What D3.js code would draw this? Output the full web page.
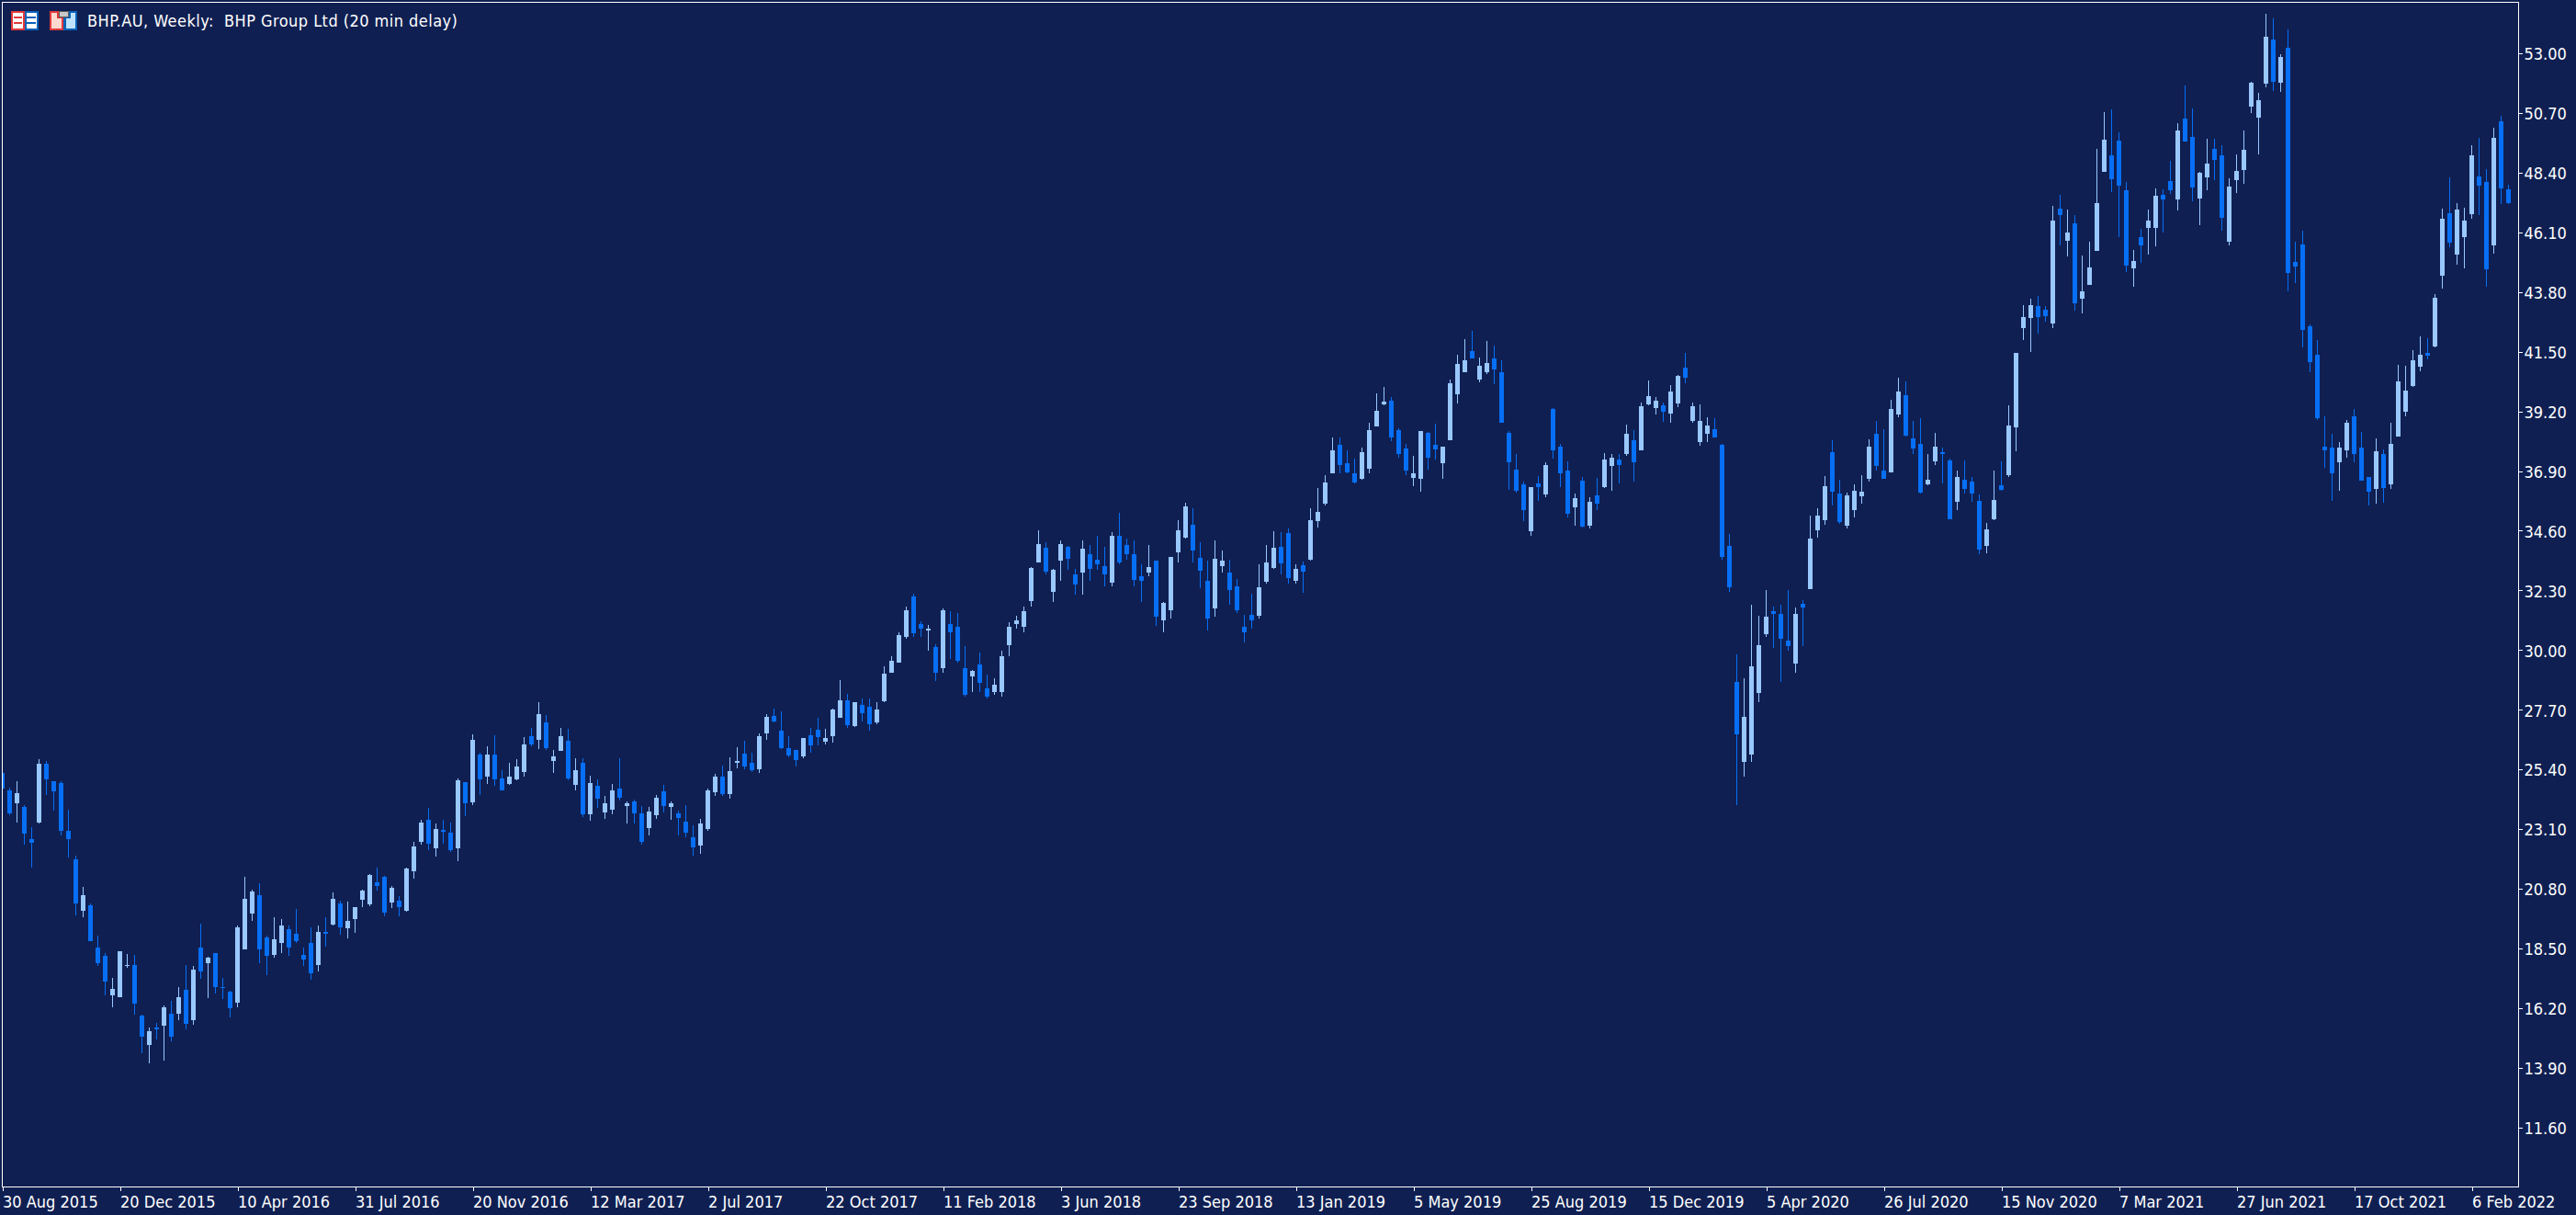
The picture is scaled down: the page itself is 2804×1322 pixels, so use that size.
<!DOCTYPE html>
<html>
<head>
<meta charset="utf-8">
<title>BHP.AU Weekly</title>
<script src="https://cdn.jsdelivr.net/npm/d3@7/dist/d3.min.js"></script>
<style>
  html, body { margin: 0; padding: 0; background: #0f1f52; }
  svg { display: block; }
  text { font-family: "DejaVu Sans Condensed", "Liberation Sans", Arial, sans-serif; font-size: 18px; fill: #ffffff; white-space: pre; }
  .title { letter-spacing: 0.45px; }
</style>
</head>
<body>
<svg id="chart" width="2804" height="1322"></svg>
<script>
// Weekly BHP.AU prices, one entry per candle, oldest first.
const highs = [
25.28,24.71,24.93,24.01,23.19,25.81,25.74,24.96,24.96,23.86,
22.09,20.89,20.22,18.98,18.31,17.35,18.41,18.27,18.24,15.94,
15.47,15.62,16.29,16.47,17.00,17.88,17.81,19.47,18.17,18.34,
17.35,16.86,19.40,21.28,20.75,21.03,18.98,19.69,19.65,19.40,
20.01,18.52,19.30,19.37,19.69,20.65,20.33,20.29,20.08,20.76,
21.36,21.60,21.29,20.90,20.51,21.60,22.60,23.45,23.91,23.30,
23.45,23.34,25.07,24.90,26.74,26.03,26.28,26.70,25.36,25.64,
25.78,26.63,26.99,27.98,27.48,26.14,26.99,26.95,25.82,25.82,
25.15,25.00,24.37,24.83,25.82,24.15,24.25,24.00,23.97,24.43,
24.82,24.18,23.83,24.04,23.23,23.51,24.68,25.24,25.56,25.88,
26.27,26.52,26.06,26.80,27.54,27.76,27.65,26.69,26.16,26.62,
27.01,27.40,26.98,27.76,28.85,28.32,28.00,28.15,28.15,28.00,
29.39,29.77,30.70,31.66,32.19,31.12,30.98,30.24,31.62,31.51,
31.44,30.17,29.25,29.89,29.04,28.90,29.96,31.09,31.34,31.66,
33.21,34.63,34.17,33.14,34.24,34.03,33.14,34.24,34.06,34.42,
33.99,34.56,35.30,34.31,34.21,33.32,34.06,33.46,31.87,33.60,
35.02,35.69,35.48,34.17,33.43,34.21,33.82,33.50,32.75,31.37,
32.19,33.32,34.06,34.59,34.56,34.70,33.32,33.42,35.48,36.25,
36.75,38.20,38.20,37.71,37.39,37.81,38.77,39.90,40.15,39.76,
38.56,37.95,37.49,38.45,38.41,38.73,37.85,40.43,41.39,42.00,
42.31,41.28,41.90,41.75,41.18,38.45,37.57,36.50,36.29,36.71,
37.25,39.33,37.95,37.28,36.05,36.68,35.90,36.64,37.60,37.56,
37.54,38.70,38.49,39.55,40.40,39.76,39.55,40.22,40.62,41.46,
39.55,39.47,38.99,38.95,37.96,34.48,29.85,28.93,31.73,31.34,
32.30,31.69,31.76,32.30,31.65,31.94,35.17,35.47,36.72,38.09,
36.58,36.08,36.39,36.75,38.13,38.84,38.52,39.65,40.50,40.36,
38.84,38.94,37.56,38.38,37.81,37.39,36.93,37.31,36.68,36.00,
34.91,36.93,37.28,39.44,41.46,43.30,43.55,43.65,43.26,47.12,
47.55,46.98,46.77,45.21,45.74,49.32,50.73,50.84,49.95,48.04,
45.42,46.24,46.98,47.79,47.76,48.86,50.31,51.76,50.87,48.43,
49.71,49.71,49.47,48.19,49.11,50.02,51.90,51.48,54.52,54.35,
52.97,53.91,45.75,46.17,42.56,41.96,39.02,38.34,38.02,38.85,
39.30,38.42,36.68,38.16,37.75,38.77,40.99,40.97,41.56,42.09,
42.03,43.72,47.01,48.22,47.23,47.05,49.46,49.74,48.54,50.13,
50.59,47.94
];
const lows = [
24.68,23.62,23.37,22.52,21.60,23.33,24.43,23.83,22.84,22.02,
19.79,19.72,18.77,17.81,16.71,16.25,16.61,17.74,15.94,14.45,
14.06,14.98,14.17,14.94,15.72,15.37,15.55,17.32,16.57,16.75,
16.54,15.86,16.25,18.48,19.58,17.92,17.46,18.13,18.34,18.20,
18.73,17.81,17.28,17.63,18.56,19.37,19.02,18.88,19.09,20.08,
20.12,20.72,19.73,20.05,19.73,19.91,21.18,22.49,22.28,22.03,
22.53,22.21,21.85,23.59,24.01,24.40,24.83,24.76,24.61,24.79,
24.97,25.11,26.28,26.17,26.14,25.25,26.10,24.97,24.58,23.55,
23.41,23.91,23.48,23.66,24.22,23.33,23.30,22.52,22.87,23.51,
23.76,23.47,22.84,22.77,22.06,22.16,23.05,24.39,24.39,24.29,
25.46,25.42,25.31,25.28,26.55,27.23,26.20,25.88,25.53,25.84,
26.06,26.34,26.38,26.45,27.40,27.01,27.05,27.26,26.91,27.16,
28.00,29.14,29.50,30.42,30.49,30.52,29.99,28.82,29.14,29.64,
29.50,28.19,28.40,28.40,28.12,28.29,28.22,29.75,30.84,30.67,
31.69,33.36,32.93,31.87,32.68,33.11,32.15,32.15,32.68,33.11,
32.44,32.44,33.32,33.50,32.47,31.87,32.86,30.95,30.70,31.20,
33.39,34.31,33.39,32.40,30.77,31.27,33.00,31.76,31.44,30.31,
30.84,31.23,32.57,33.14,32.93,32.57,32.57,32.22,33.46,34.73,
35.58,36.82,36.82,36.82,36.43,36.57,36.82,38.63,39.44,38.06,
37.42,36.75,36.32,36.11,36.96,37.35,36.61,38.10,39.51,40.72,
41.25,40.33,40.64,40.25,38.77,36.18,36.08,34.98,34.41,35.76,
35.90,37.39,36.29,35.12,34.80,34.71,34.67,35.38,36.26,36.15,
36.43,37.50,36.51,37.71,39.44,39.09,38.80,38.76,39.37,40.29,
38.76,37.88,38.03,38.21,33.50,32.26,24.04,25.11,25.68,28.01,
30.52,30.10,28.76,29.99,29.14,30.17,32.36,34.35,34.84,35.59,
34.88,34.67,35.13,35.66,36.51,36.93,36.61,36.85,38.98,38.24,
37.56,36.04,36.36,37.14,36.43,35.05,35.40,36.04,35.72,33.70,
33.74,35.01,36.15,36.68,37.67,41.95,41.49,42.20,42.66,42.41,
45.60,45.17,43.09,42.98,44.08,45.39,48.43,47.65,45.92,44.57,
44.01,44.93,45.24,45.56,46.09,47.58,46.94,49.60,47.30,46.38,
47.72,48.11,46.17,45.60,47.62,47.97,50.70,49.11,51.69,51.55,
51.51,43.83,44.16,41.68,40.72,38.87,37.04,35.76,36.15,37.43,
37.22,36.54,35.58,35.66,35.68,36.22,38.24,39.02,40.15,40.76,
41.21,41.68,43.94,45.53,44.86,44.71,46.63,46.77,44.00,45.28,
47.19,47.19
];
const opens = [
25.28,24.61,24.08,23.94,22.73,23.37,25.63,24.96,24.86,23.02,
21.92,19.94,20.18,18.55,18.20,16.68,16.61,17.85,17.88,15.90,
14.77,15.44,15.51,15.97,15.97,16.89,15.72,18.52,17.92,18.34,
17.03,16.82,16.40,18.48,19.86,20.54,18.91,18.24,18.70,19.26,
19.05,18.24,18.70,17.88,19.13,19.41,20.22,19.27,19.62,20.37,
20.19,21.04,21.25,20.26,20.33,19.94,21.46,22.60,23.45,22.35,
23.06,22.95,22.35,24.90,24.12,25.96,25.11,25.99,25.07,24.83,
25.00,25.29,26.67,26.53,27.23,25.71,26.10,26.49,24.79,25.64,
23.66,24.76,23.73,23.84,24.68,24.00,24.18,23.72,23.15,23.62,
24.57,23.97,23.69,23.40,22.80,22.48,23.12,24.53,25.14,24.46,
25.67,26.02,25.67,25.42,26.80,27.47,26.91,26.23,26.16,25.91,
26.73,26.94,26.48,26.69,27.40,28.08,27.08,27.90,27.83,27.23,
28.04,29.14,29.50,30.52,32.08,31.02,30.77,30.13,29.32,31.02,
30.91,29.32,29.00,29.43,28.51,28.40,28.40,30.20,31.02,30.88,
31.90,33.36,33.96,32.26,33.43,33.99,32.90,32.97,33.71,33.50,
33.25,32.58,34.42,34.06,33.71,32.86,32.97,33.46,31.16,31.55,
33.78,34.35,34.84,33.57,32.68,31.59,33.25,32.97,32.44,30.88,
31.37,31.33,32.64,33.17,33.99,34.52,32.68,33.28,33.49,34.98,
35.65,36.82,37.92,37.21,36.82,36.61,37.00,38.63,39.48,39.62,
38.48,37.78,36.64,36.61,38.38,37.92,37.21,38.10,39.87,40.72,
41.53,40.43,40.72,41.25,40.72,38.38,36.96,36.40,34.59,36.43,
36.01,39.30,37.85,36.93,35.51,36.54,34.80,35.97,36.29,37.10,
37.35,37.54,38.09,37.71,39.47,39.34,39.45,39.12,39.51,40.89,
38.84,38.03,38.34,38.52,37.92,34.00,28.78,25.70,25.99,28.36,
30.63,31.51,31.40,30.38,29.49,31.80,32.36,34.63,35.02,37.63,
36.05,34.80,35.38,35.93,36.60,38.34,36.93,36.85,39.08,39.83,
38.16,37.95,36.39,37.28,37.63,37.31,35.72,36.57,36.50,35.76,
34.02,35.05,36.36,36.75,38.59,42.41,42.80,43.26,43.12,42.59,
47.01,45.78,46.45,43.55,44.08,45.39,48.43,49.07,49.63,47.72,
44.71,45.92,46.27,46.27,47.55,48.08,47.37,50.48,49.78,47.40,
48.23,49.31,49.07,45.75,48.11,48.50,50.94,50.53,51.83,53.54,
51.87,53.21,44.97,45.64,42.49,41.39,37.85,37.81,37.25,37.71,
39.02,37.81,36.68,36.22,37.57,36.37,38.24,39.20,40.19,40.93,
41.46,41.70,44.43,46.84,45.24,45.93,46.81,48.25,48.05,45.60,
50.37,47.76
];
const closes = [
24.68,23.69,24.50,22.91,22.59,25.63,25.00,24.57,23.02,22.70,
20.22,20.54,18.77,17.92,17.21,16.93,18.38,17.88,16.36,15.09,
15.30,15.37,16.25,15.09,16.64,15.58,17.70,17.60,18.13,17.00,
16.96,16.18,19.30,20.40,20.71,18.45,18.20,18.87,19.40,18.52,
18.80,18.09,17.53,19.12,19.06,20.40,19.30,19.55,20.08,20.72,
21.32,20.90,19.87,20.83,20.08,21.57,22.42,23.34,22.53,23.09,
22.99,22.28,24.97,24.08,26.53,25.00,25.99,25.00,24.61,25.11,
25.53,26.35,26.35,27.55,26.21,25.92,26.67,25.07,25.36,23.66,
24.86,24.26,24.08,24.61,24.30,24.08,23.72,22.62,23.79,24.32,
24.00,24.11,23.54,22.98,22.41,23.30,24.61,25.14,24.46,25.35,
25.74,25.53,25.38,26.69,27.44,27.26,26.23,25.95,25.77,26.62,
26.34,26.66,26.62,27.72,28.08,27.12,28.00,27.58,27.16,27.72,
29.10,29.60,30.59,31.55,30.66,30.84,30.84,29.11,31.55,30.67,
29.60,28.29,29.18,28.75,28.19,28.65,29.75,30.88,31.13,31.51,
33.18,34.10,33.04,33.11,34.10,33.53,32.51,33.92,33.14,33.32,
32.90,34.42,33.36,33.71,32.72,32.68,33.21,31.30,31.83,33.60,
34.63,35.52,33.82,33.07,31.20,33.53,33.43,32.33,31.55,30.67,
31.16,32.43,33.39,33.95,33.35,32.79,33.14,33.03,35.02,35.33,
36.47,37.71,37.14,36.86,36.47,37.64,38.48,39.23,39.58,38.20,
37.56,36.93,36.82,38.45,37.42,37.74,37.85,40.29,41.03,41.18,
41.25,40.96,41.07,40.82,38.77,37.25,36.15,35.41,36.29,36.29,
37.14,37.71,36.82,35.26,35.84,34.77,35.72,35.66,37.33,37.42,
37.14,38.34,37.25,39.41,39.80,39.62,39.20,39.97,40.58,40.50,
39.41,38.84,38.67,38.21,33.60,32.43,26.77,27.44,29.39,30.20,
31.30,31.38,30.45,30.14,31.40,31.63,34.31,35.17,36.33,36.12,
34.95,35.97,36.15,36.12,37.85,37.08,36.61,39.30,39.97,38.27,
37.77,36.07,36.57,37.85,37.56,35.05,36.68,36.22,36.04,33.88,
34.66,35.79,36.18,38.66,41.46,42.84,43.30,42.84,42.87,46.55,
46.77,46.09,43.37,43.83,44.75,47.23,49.67,48.15,47.90,44.82,
45.00,45.60,46.55,47.51,47.37,47.72,50.02,49.60,47.83,48.40,
48.76,48.90,46.66,47.87,48.47,49.29,51.87,51.20,53.64,51.90,
52.85,44.53,44.79,42.35,41.11,38.95,37.71,36.82,37.81,38.77,
37.57,36.54,36.12,37.67,36.25,37.96,40.36,40.01,41.17,41.39,
41.35,43.59,46.63,45.71,46.99,46.56,49.07,47.90,44.69,49.74,
47.80,47.23
];

// Price ladder on the right edge and week labels every 16 bars along the bottom.
const priceTicks = [53.00,50.70,48.40,46.10,43.80,41.50,39.20,36.90,34.60,32.30,30.00,27.70,25.40,23.10,20.80,18.50,16.20,13.90,11.60];
const dateLabels = ["30 Aug 2015","20 Dec 2015","10 Apr 2016","31 Jul 2016","20 Nov 2016","12 Mar 2017","2 Jul 2017","22 Oct 2017","11 Feb 2018","3 Jun 2018","23 Sep 2018","13 Jan 2019","5 May 2019","25 Aug 2019","15 Dec 2019","5 Apr 2020","26 Jul 2020","15 Nov 2020","7 Mar 2021","27 Jun 2021","17 Oct 2021","6 Feb 2022"];
const barsPerLabel = 16;
const titleText = "BHP.AU, Weekly:  BHP Group Ltd (20 min delay)";

const frame = { left: 2, top: 2, right: 2741, bottom: 1291 };
const colors = { up: "#99c8ff", down: "#066ff5", line: "#ffffff" };
const bodyWidth = 5;

const x = d3.scaleLinear().domain([0, barsPerLabel * (dateLabels.length - 1)]).range([2, 2690]);
const y = d3.scaleLinear().domain([53, 11.6]).range([58, 1226.8]);

const svg = d3.select("#chart");

svg.append("defs").append("clipPath").attr("id", "plot")
  .append("rect")
  .attr("x", frame.left).attr("y", frame.top)
  .attr("width", frame.right - frame.left).attr("height", frame.bottom - frame.top);

const candles = d3.range(highs.length).map(i => ({
  i, high: highs[i], low: lows[i], open: opens[i], close: closes[i]
}));

const candle = svg.append("g")
  .attr("clip-path", "url(#plot)")
  .attr("shape-rendering", "crispEdges")
  .selectAll("g")
  .data(candles)
  .join("g")
  .attr("fill", d => d.close >= d.open ? colors.up : colors.down);

// Wick
candle.append("rect")
  .attr("x", d => x(d.i))
  .attr("width", 1)
  .attr("y", d => Math.round(y(d.high)))
  .attr("height", d => Math.max(1, Math.round(y(d.low)) - Math.round(y(d.high))));

// Body
candle.append("rect")
  .attr("x", d => x(d.i) - (bodyWidth - 1) / 2)
  .attr("width", bodyWidth)
  .attr("y", d => Math.round(y(Math.max(d.open, d.close))))
  .attr("height", d => Math.max(1, Math.round(y(Math.min(d.open, d.close))) - Math.round(y(Math.max(d.open, d.close)))));

// Chart frame
svg.append("rect")
  .attr("x", frame.left + 0.5).attr("y", frame.top + 0.5)
  .attr("width", frame.right - frame.left).attr("height", frame.bottom - frame.top)
  .attr("fill", "none").attr("stroke", colors.line).attr("shape-rendering", "crispEdges");

// Price axis
const yAxis = svg.append("g")
  .attr("transform", `translate(${frame.right + 0.5},0)`)
  .call(d3.axisRight(y).tickValues(priceTicks).tickSize(4).tickPadding(2).tickFormat(d3.format(".2f")));
yAxis.select(".domain").remove();
yAxis.selectAll("line").attr("stroke", colors.line).attr("shape-rendering", "crispEdges");
yAxis.selectAll("text").attr("fill", colors.line).attr("y", 1);

// Date axis
const xAxis = svg.append("g")
  .attr("transform", `translate(0.5,${frame.bottom + 0.5})`)
  .call(d3.axisBottom(x)
    .tickValues(dateLabels.map((_, k) => k * barsPerLabel))
    .tickSize(4)
    .tickFormat((_, k) => dateLabels[k]));
xAxis.select(".domain").remove();
xAxis.selectAll("line").attr("stroke", colors.line).attr("shape-rendering", "crispEdges");
xAxis.selectAll("text")
  .attr("fill", colors.line)
  .attr("text-anchor", "start")
  .attr("dy", null)
  .attr("y", 22)
  .attr("x", 0);

// Layout and template buttons beside the title
const icons = svg.append("g").attr("shape-rendering", "crispEdges");
const red = "#e03a3a", blue = "#0a62b8";
icons.append("rect").attr("x", 12).attr("y", 12).attr("width", 30).attr("height", 21).attr("fill", "#ffffff");
icons.append("path").attr("d", "M12 12h15v21h-15z M14 14v17h11v-17z").attr("fill", red).attr("fill-rule", "evenodd");
icons.append("path").attr("d", "M27 12h15v21h-15z M29 14v17h11v-17z").attr("fill", blue).attr("fill-rule", "evenodd");
icons.append("path").attr("d", "M15 18h9v2h-9z M15 24h9v2h-9z").attr("fill", red);
icons.append("path").attr("d", "M28 18h11v2h-11z M28 24h11v2h-11z").attr("fill", blue);
icons.append("path").attr("d", "M54 12h15v21h-15z").attr("fill", red);
icons.append("path").attr("d", "M69 12h15v21h-15z").attr("fill", blue);
icons.append("path").attr("d", "M56 14h6v6h5v11h-11z").attr("fill", "#ffd9d0");
icons.append("path").attr("d", "M72 20h5v-6h5v17h-10z").attr("fill", "#bfe3ff");
icons.append("rect").attr("x", 64).attr("y", 12).attr("width", 10).attr("height", 6).attr("fill", "#c8c8c8").attr("stroke", "#5a5a5a");

svg.append("text")
  .attr("class", "title")
  .attr("x", 95).attr("y", 29)
  .attr("xml:space", "preserve")
  .text(titleText);
</script>
</body>
</html>
